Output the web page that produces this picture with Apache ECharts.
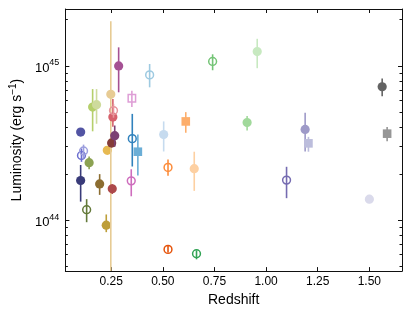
<!DOCTYPE html>
<html><head><meta charset="utf-8">
<script src="https://cdn.jsdelivr.net/npm/echarts@6/dist/echarts.min.js"></script>
<style>html,body{margin:0;padding:0;background:#fff}#c{width:415px;height:312px}</style>
</head><body><div id="c"></div>
<script>
// ---- data ----
const redshift = [0.102,0.102,0.106,0.116,0.131,0.143,0.160,0.179,0.194,0.226,
                  0.231,0.248,0.252,0.255,0.258,0.261,0.267,0.286,0.347,0.350,
                  0.352,0.379,0.436,0.504,0.525,0.525,0.611,0.652,0.663,0.741,
                  0.908,0.957,1.099,1.189,1.205,1.500,1.562,1.586];
const luminosity = [1.81e44,3.73e44,2.63e44,2.81e44,1.17e44,2.36e44,5.41e44,5.61e44,1.72e44,9.29e43,
                    2.84e44,6.55e44,3.17e44,1.60e44,4.66e44,5.14e44,3.53e44,1.00e45,1.80e44,6.17e44,
                    3.38e44,2.78e44,8.75e44,3.59e44,6.47e43,2.20e44,4.37e44,2.16e44,6.07e43,1.07e45,
                    4.30e44,1.24e45,1.82e44,3.88e44,3.15e44,1.37e44,7.33e44,3.64e44];
const lumLow = [1.32e44,3.53e44,2.39e44,2.51e44,9.71e43,2.14e44,3.77e44,4.22e44,1.46e44,8.37e43,
                2.71e44,1.0e43,2.96e44,1.48e44,4.04e44,4.62e44,3.00e44,6.75e44,1.43e44,5.41e44,
                2.23e44,1.95e44,7.27e44,2.79e44,6.17e43,1.94e44,3.69e44,1.55e44,5.58e43,9.38e44,
                3.82e44,9.67e44,1.39e44,2.79e44,2.78e44,1.29e44,6.36e44,3.25e44];
const lumHigh = [2.28e44,3.92e44,2.92e44,3.09e44,1.37e44,2.59e44,7.08e44,7.08e44,1.99e44,1.09e44,
                 3.00e44,1.95e45,3.38e44,1.71e44,6.11e44,5.68e44,4.11e44,1.32e45,2.14e44,6.91e44,
                 4.89e44,3.59e44,1.03e45,4.37e44,6.84e43,2.48e44,5.02e44,2.78e44,6.38e43,1.19e45,
                 4.73e44,1.50e45,2.22e44,4.97e44,3.47e44,1.46e44,8.30e44,4.02e44];
// f = filled circle, o = open circle, s = filled square, q = open square
const kinds = ['f','f','o','o','o','f','f','f','f','f',
               'f','f','f','f','f','o','f','f','o','q',
               'o','s','o','f','o','o','s','f','o','o',
               'f','f','o','f','s','f','f','s'];
const xTicks = [0.25,0.50,0.75,1.00,1.25,1.50];
const yMajorTicks = [1e44,1e45];
const yMinorTicks = [5e43,6e43,7e43,8e43,9e43,2e44,3e44,4e44,5e44,6e44,7e44,8e44,9e44,2e45];
const xRange = [0.028,1.658];
const yRange = [4.68e43,2.34e45];

// ---- styles ----
const palette = ['#393b79','#5254a3','#6b6ecf','#9c9ede','#637939','#8ca252','#b5cf6b','#cedb9c','#8c6d31','#bd9e39',
                 '#e7ba52','#e7cb94','#843c39','#ad494a','#d6616b','#e7969c','#7b4173','#a55194','#ce6dbd','#de9ed6',
                 '#3182bd','#6baed6','#9ecae1','#c6dbef','#e6550d','#fd8d3c','#fdae6b','#fdd0a2','#31a354','#74c476',
                 '#a1d99b','#c7e9c0','#756bb1','#9e9ac8','#bcbddc','#dadaeb','#636363','#969696'];
const FONT = '"Liberation Sans", Arial, Helvetica, sans-serif';
const AX = '#111';

const chart = echarts.init(document.getElementById('c'), null, {renderer:'canvas'});

function xAx(pos, labels){
  return {
    type:'value', position:pos, min:xRange[0], max:xRange[1],
    axisLine:{show:true, onZero:false, lineStyle:{color:AX, width:1}},
    axisTick:{show:true, inside:true, length:4, customValues:xTicks, lineStyle:{color:AX}},
    axisLabel:{show:labels, customValues:xTicks, margin:5, color:'#000', fontSize:12, fontFamily:FONT,
               formatter:v=>v.toFixed(2)},
    splitLine:{show:false},
    name: labels ? 'Redshift' : '', nameLocation:'middle', nameGap:17,
    nameTextStyle:{color:'#000', fontSize:14, fontFamily:FONT}
  };
}
function yAx(pos, ticks, len, line, labels){
  const a = {
    type:'log', logBase:10, position:pos, min:yRange[0], max:yRange[1],
    axisLine:{show:line, onZero:false, lineStyle:{color:AX, width:1}},
    axisTick:{show:true, inside:true, length:len, customValues:ticks, lineStyle:{color:AX}},
    axisLabel:{show:labels, customValues:ticks, margin:6, color:'#000', fontFamily:FONT,
      formatter:v=>'{b|10}{s|' + Math.round(Math.log10(v)) + '}',
      rich:{b:{fontSize:13, fontFamily:FONT, color:'#000', padding:[4,0,0,0]},
            s:{fontSize:9, fontFamily:FONT, color:'#000', padding:[0,0,6,0]}}},
    splitLine:{show:false}, minorTick:{show:false}
  };
  if (labels) {
    a.name = '{a|Luminosity (erg s}{s|−1}{a|)}';
    a.nameLocation = 'middle';
    a.nameGap = 38;
    a.nameTextStyle = {rich:{a:{fontSize:14, fontFamily:FONT, color:'#000', padding:[0,0,0,0]},
                             s:{fontSize:10, fontFamily:FONT, color:'#000', padding:[0,0,8,0]}}};
  }
  return a;
}

const points = redshift.map((x,i)=>[x, luminosity[i], lumLow[i], lumHigh[i]]);

chart.setOption({
  animation:false,
  backgroundColor:'#fff',
  grid:{left:60, right:13, top:9, bottom:38, containLabel:false},
  xAxis:[xAx('bottom', true), xAx('top', false)],
  yAxis:[yAx('left', yMajorTicks, 4, true, true),
         yAx('left', yMinorTicks, 2.5, false, false),
         yAx('right', yMajorTicks, 4, true, false),
         yAx('right', yMinorTicks, 2.5, false, false)],
  series:[{
    type:'custom', xAxisIndex:0, yAxisIndex:0,
    data: points,
    encode:{x:0, y:1},
    renderItem:function(params, api){
      const i = params.dataIndex;
      const cs = params.coordSys;
      const x = api.value(0);
      const p = api.coord([x, api.value(1)]);
      const t = api.coord([x, api.value(3)]);
      const b = api.coord([x, api.value(2)]);
      const y1 = Math.max(t[1], cs.y), y2 = Math.min(b[1], cs.y + cs.height);
      const c = palette[i];
      const k = kinds[i];
      const ch = [{type:'line', shape:{x1:p[0], y1:y1, x2:p[0], y2:y2}, style:{stroke:c, lineWidth:1.6}}];
      if (k === 'f') ch.push({type:'circle', shape:{cx:p[0], cy:p[1], r:4.6}, style:{fill:c}});
      else if (k === 'o') ch.push({type:'circle', shape:{cx:p[0], cy:p[1], r:3.9}, style:{fill:'none', stroke:c, lineWidth:1.5}});
      else if (k === 's') ch.push({type:'rect', shape:{x:p[0]-4.3, y:p[1]-4.3, width:8.6, height:8.6}, style:{fill:c}});
      else ch.push({type:'rect', shape:{x:p[0]-3.7, y:p[1]-3.7, width:7.4, height:7.4}, style:{fill:'none', stroke:c, lineWidth:1.5}});
      return {type:'group', children:ch};
    }
  }]
});
</script></body></html>
